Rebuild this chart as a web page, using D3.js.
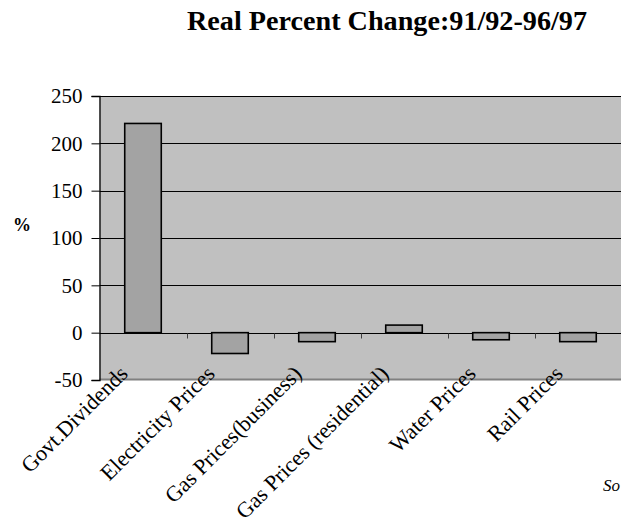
<!DOCTYPE html>
<html>
<head>
<meta charset="utf-8">
<script src="https://cdn.jsdelivr.net/npm/d3@7"></script>
<style>
  html, body { margin: 0; padding: 0; background: #ffffff; }
  svg { display: block; }
  svg text { font-family: 'Liberation Serif', 'Times New Roman', Times, serif; }
</style>
</head>
<body>
<svg id="chart" width="621" height="523"></svg>
<script>
// Real percent change, 91/92 to 96/97
const categories = [
  "Govt.Dividends",
  "Electricity Prices",
  "Gas Prices(business)",
  "Gas Prices (residential)",
  "Water Prices",
  "Rail Prices"
];
const changeValues = [221, -22, -9.5, 8, -7.5, -9.5];
const yTicks = [-50, 0, 50, 100, 150, 200, 250];
const titleText = "Real Percent Change:91/92-96/97";
const yAxisLabel = "%";
const sourceText = "So";

const svg = d3.select("#chart");

const plot = { left: 99.5, right: 621.5, top: 96, bottom: 380 };

const x = d3.scaleBand()
  .domain(categories)
  .range([plot.left, plot.right])
  .paddingInner(0.58)
  .paddingOuter(0.29);

// full category sections (for tick marks and labels)
const xSection = d3.scaleBand()
  .domain(categories)
  .range([plot.left, plot.right])
  .padding(0);

const y = d3.scaleLinear()
  .domain([-50, 250])
  .range([plot.bottom, plot.top]);

// plot background
svg.append("rect")
  .attr("x", plot.left)
  .attr("y", plot.top)
  .attr("width", plot.right - plot.left)
  .attr("height", plot.bottom - plot.top)
  .attr("fill", "#c0c0c0");

// horizontal grid lines
svg.append("g")
  .selectAll("line")
  .data(yTicks.filter(d => d > -50))
  .join("line")
  .attr("x1", plot.left)
  .attr("x2", plot.right)
  .attr("y1", d => Math.round(y(d)) + 0.5)
  .attr("y2", d => Math.round(y(d)) + 0.5)
  .attr("stroke", "#000")
  .attr("stroke-width", 1);

// bottom border of the plot area
svg.append("line")
  .attr("x1", plot.left)
  .attr("x2", plot.right)
  .attr("y1", y(-50) - 0.5)
  .attr("y2", y(-50) - 0.5)
  .attr("stroke", "#808080")
  .attr("stroke-width", 2);

// bars
svg.append("g")
  .selectAll("rect")
  .data(changeValues)
  .join("rect")
  .attr("x", (d, i) => x(categories[i]))
  .attr("width", x.bandwidth())
  .attr("y", d => y(Math.max(0, d)))
  .attr("height", d => Math.abs(y(d) - y(0)))
  .attr("fill", "#a3a3a3")
  .attr("stroke", "#000")
  .attr("stroke-width", 1.6);

// category tick marks on the zero line
const zeroY = Math.round(y(0)) + 0.5;
svg.append("g")
  .selectAll("line")
  .data(categories.slice(1))
  .join("line")
  .attr("x1", d => Math.round(xSection(d)) + 0.5)
  .attr("x2", d => Math.round(xSection(d)) + 0.5)
  .attr("y1", zeroY)
  .attr("y2", zeroY + 5)
  .attr("stroke", "#404040")
  .attr("stroke-width", 1);

// y axis (plain hyphen for negative numbers)
const yAxis = d3.axisLeft(y)
  .tickValues(yTicks)
  .tickSize(8)
  .tickPadding(9)
  .tickFormat(d => String(d));

const yAxisG = svg.append("g")
  .attr("transform", `translate(${plot.left},0)`)
  .call(yAxis)
  .attr("font-family", null)
  .attr("font-size", null);
yAxisG.select(".domain").attr("stroke", "#000").attr("stroke-width", 1.3);
yAxisG.selectAll(".tick line").attr("stroke", "#000");
yAxisG.selectAll(".tick text")
  .style("font-size", "21px")
  .attr("fill", "#000");

// rotated category labels, end-anchored just left of each section centre
svg.append("g")
  .selectAll("text")
  .data(categories)
  .join("text")
  .attr("transform", d => `translate(${xSection(d) + xSection.bandwidth() / 2 - 14},${plot.bottom - 5}) rotate(-45)`)
  .attr("text-anchor", "end")
  .style("font-size", "22px")
  .attr("fill", "#000")
  .text(d => d);

// title
svg.append("text")
  .attr("x", 187)
  .attr("y", 29.5)
  .style("font-size", "27px")
  .style("font-weight", "bold")
  .attr("textLength", 400)
  .attr("lengthAdjust", "spacingAndGlyphs")
  .attr("fill", "#000")
  .text(titleText);

// y axis label
svg.append("text")
  .attr("x", 13)
  .attr("y", 231)
  .style("font-size", "18px")
  .style("font-weight", "bold")
  .attr("fill", "#000")
  .text(yAxisLabel);

// source note
svg.append("text")
  .attr("x", 603)
  .attr("y", 491)
  .style("font-size", "17px")
  .style("font-style", "italic")
  .attr("fill", "#000")
  .text(sourceText);
</script>
</body>
</html>
